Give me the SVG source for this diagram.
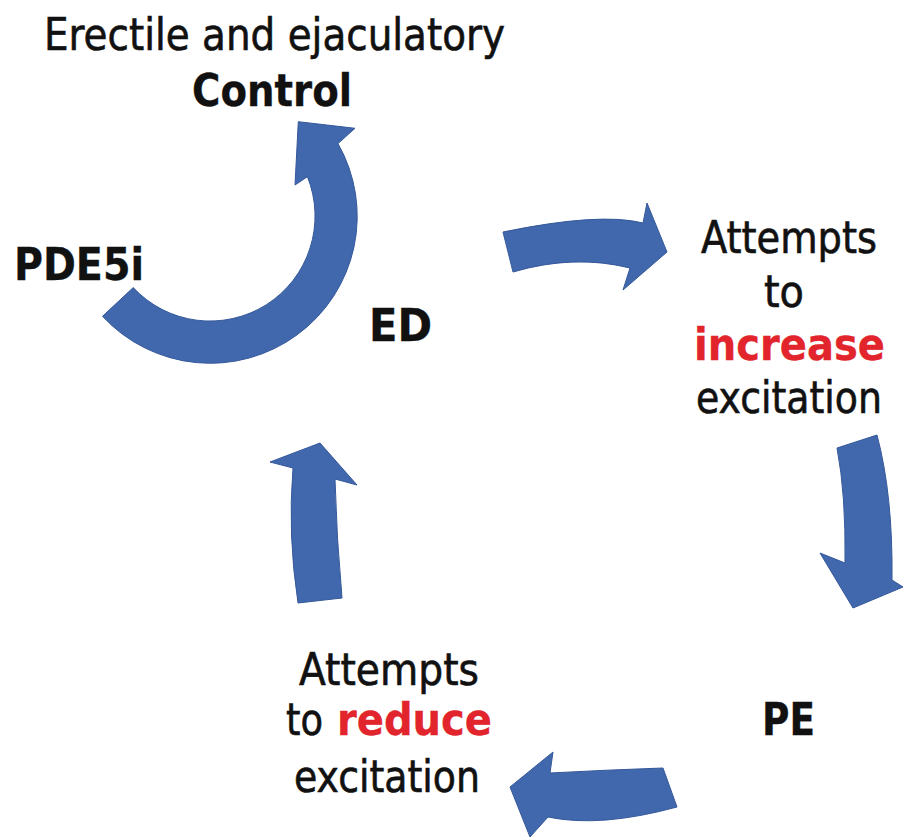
<svg xmlns="http://www.w3.org/2000/svg" width="904" height="837" viewBox="0 0 904 837">
<style>
.t{font-family:"DejaVu Sans Condensed","DejaVu Sans",sans-serif;font-size:44px;fill:#111;stroke:#111;stroke-width:0.6px;}
.b{font-weight:bold;stroke-width:0.3px;}
.r{fill:#e2242c;stroke:#e2242c;}
.arr{fill:#4168ad;stroke:#35589a;stroke-width:1;stroke-linejoin:miter;}
</style>
<rect width="904" height="837" fill="#ffffff"/>
<g id="connectors">
<path class="arr" d="M 102.5 316.3 A 147 147 0 0 0 338 143.6 L 355 128.3 L 298.3 121.7 L 295 185 L 307.4 176.7 A 105 105 0 0 1 133.2 287.6 Z"/>
<path class="arr" d="M 503 232 Q 600 212 643 223 L 647 203 L 667 252 L 623 290 L 630 268 Q 574 254 513 272 Z"/>
<path class="arr" d="M 837 448 L 877 435 Q 893 495 892 580 L 903 587 L 853 608 L 820 553 L 845 563 Q 846 495 837 448 Z"/>
<path class="arr" d="M 663 768 Q 605 770 550 773 L 553 752 L 510 787 L 530 837 L 548 817 Q 600 828 677 807 Z"/>
<path class="arr" d="M 298 603 Q 287.5 534.5 293 468 L 270 462 L 320 443 L 357 485 L 335 479 Q 336.5 537.5 342 598 Z"/>
</g>
<g id="control">
<text class="t" x="44" y="50" style="font-size:45px" textLength="461" lengthAdjust="spacingAndGlyphs">Erectile and ejaculatory</text>
<text class="t b" x="192" y="106" textLength="160" lengthAdjust="spacingAndGlyphs">Control</text>
</g>
<g id="pde5i">
<text class="t b" x="14" y="280" textLength="130" lengthAdjust="spacingAndGlyphs">PDE5i</text>
</g>
<g id="ed">
<text class="t b" x="369" y="341" textLength="63" lengthAdjust="spacingAndGlyphs">ED</text>
</g>
<g id="increase">
<text class="t" x="701" y="253" textLength="176" lengthAdjust="spacingAndGlyphs">Attempts</text>
<text class="t" x="764" y="307" textLength="40" lengthAdjust="spacingAndGlyphs">to</text>
<text class="t b r" x="694" y="360" textLength="191" lengthAdjust="spacingAndGlyphs">increase</text>
<text class="t" x="696" y="413" textLength="186" lengthAdjust="spacingAndGlyphs">excitation</text>
</g>
<g id="pe">
<text class="t b" x="762" y="735" textLength="53" lengthAdjust="spacingAndGlyphs">PE</text>
</g>
<g id="reduce">
<text class="t" x="299" y="685" textLength="180" lengthAdjust="spacingAndGlyphs">Attempts</text>
<text class="t" x="286" y="735" textLength="37" lengthAdjust="spacingAndGlyphs">to</text>
<text class="t b r" x="337" y="735" textLength="155" lengthAdjust="spacingAndGlyphs">reduce</text>
<text class="t" x="294" y="792" textLength="186" lengthAdjust="spacingAndGlyphs">excitation</text>
</g>
</svg>
